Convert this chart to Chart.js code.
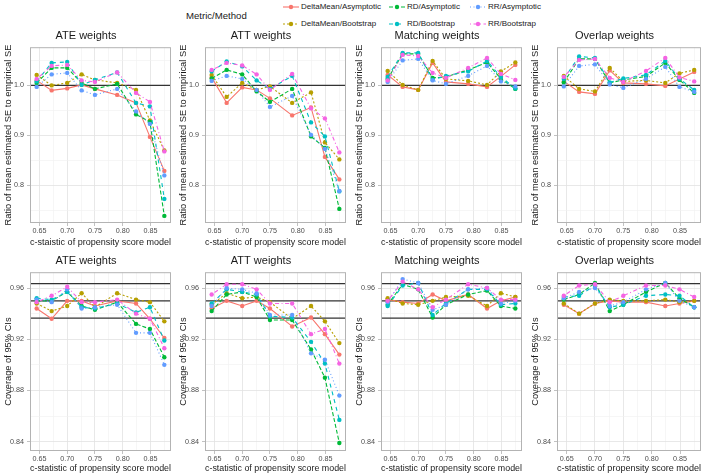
<!DOCTYPE html>
<html>
<head>
<meta charset="utf-8">
<script src="https://cdn.jsdelivr.net/npm/chart.js@4.4.1/dist/chart.umd.min.js"></script>
<style>
body{margin:0;background:#fff;width:709px;height:474px;overflow:hidden;position:relative;font-family:"Liberation Sans",Arial,sans-serif;}
canvas{position:absolute;}
.lg-title{position:absolute;font-size:9.6px;color:#1a1a1a;line-height:12px;}
.lg-item{position:absolute;font-size:8px;color:#1a1a1a;white-space:nowrap;height:12px;line-height:12px;}
.lg-item svg{position:absolute;left:0;top:0;}
.lg-item span{position:absolute;left:18px;top:0;}
</style>
</head>
<body>
<div id="legend"></div>
<script>
// c-statistic of the propensity score model (x positions)
const xVals = [0.645, 0.672, 0.700, 0.726, 0.750, 0.790, 0.824, 0.849, 0.875];
const seriesNames = ['DeltaMean/Asymptotic', 'DeltaMean/Bootstrap', 'RD/Asymptotic', 'RD/Bootstrap', 'RR/Asymptotic', 'RR/Bootstrap'];

// ratio of mean estimated SE to empirical SE, one row per series (same order as seriesNames)
const seATE = [
  [1.010, 0.990, 0.994, 1.001, 0.993, 0.981, 0.965, 0.897, 0.829],
  [1.021, 1.000, 1.005, 1.022, 1.011, 1.005, 0.991, 0.930, 0.870],
  [1.005, 1.035, 1.035, 1.005, 0.993, 1.003, 0.942, 0.927, 0.739],
  [1.008, 1.045, 1.047, 1.001, 1.011, 1.026, 0.965, 0.958, 0.773],
  [0.997, 1.022, 1.025, 0.990, 0.981, 0.993, 0.948, 0.923, 0.820],
  [1.013, 1.039, 1.041, 1.010, 1.007, 1.026, 0.985, 0.967, 0.868]
];
const seATT = [
  [1.016, 0.965, 0.996, 0.991, 0.974, 0.940, 0.956, 0.857, 0.812],
  [1.021, 0.977, 1.005, 0.991, 0.998, 0.965, 0.986, 0.886, 0.852],
  [1.014, 1.031, 1.022, 0.988, 0.967, 0.993, 0.898, 0.875, 0.753],
  [1.028, 1.048, 1.038, 1.010, 0.993, 1.019, 0.926, 0.898, 0.788],
  [1.009, 1.019, 1.013, 0.991, 0.957, 0.979, 0.901, 0.873, 0.789],
  [1.031, 1.045, 1.040, 1.022, 0.991, 1.023, 0.954, 0.934, 0.866]
];
const seMatching = [
  [1.021, 0.997, 0.991, 1.045, 1.007, 1.003, 0.997, 1.018, 1.041],
  [1.029, 1.001, 0.991, 1.049, 1.013, 1.009, 1.001, 1.028, 1.046],
  [1.013, 1.063, 1.063, 1.015, 1.017, 1.031, 1.046, 1.013, 0.993],
  [1.017, 1.065, 1.065, 1.011, 1.019, 1.028, 1.049, 1.017, 0.994],
  [1.007, 1.050, 1.053, 1.010, 1.003, 1.019, 1.039, 1.008, 0.998],
  [1.010, 1.061, 1.059, 1.025, 1.015, 1.035, 1.055, 1.023, 1.011]
];
const seOverlap = [
  [1.008, 0.987, 0.983, 1.030, 1.005, 1.003, 0.999, 1.013, 1.027],
  [1.019, 0.993, 0.988, 1.035, 1.008, 1.010, 1.005, 1.024, 1.031],
  [1.006, 1.053, 1.053, 1.005, 1.011, 1.018, 1.045, 1.011, 0.985],
  [1.013, 1.058, 1.055, 1.006, 1.014, 1.021, 1.049, 1.013, 0.991],
  [0.998, 1.039, 1.042, 1.002, 0.995, 1.013, 1.037, 0.997, 0.987],
  [1.017, 1.051, 1.053, 1.015, 1.007, 1.029, 1.055, 1.016, 1.008]
];

// coverage of 95% CIs
const covATE = [
  [0.944, 0.936, 0.950, 0.950, 0.946, 0.950, 0.948, 0.936, 0.921],
  [0.948, 0.942, 0.946, 0.956, 0.945, 0.956, 0.951, 0.949, 0.934],
  [0.950, 0.950, 0.957, 0.946, 0.943, 0.949, 0.932, 0.928, 0.906],
  [0.952, 0.951, 0.957, 0.945, 0.944, 0.948, 0.941, 0.945, 0.919],
  [0.951, 0.949, 0.959, 0.944, 0.945, 0.947, 0.925, 0.925, 0.900],
  [0.949, 0.954, 0.961, 0.949, 0.949, 0.951, 0.940, 0.936, 0.913]
];
const covATT = [
  [0.944, 0.950, 0.946, 0.950, 0.944, 0.930, 0.937, 0.924, 0.908],
  [0.947, 0.956, 0.952, 0.953, 0.949, 0.936, 0.946, 0.934, 0.917],
  [0.942, 0.955, 0.957, 0.953, 0.935, 0.935, 0.912, 0.890, 0.839],
  [0.948, 0.959, 0.957, 0.955, 0.938, 0.937, 0.918, 0.901, 0.857],
  [0.946, 0.960, 0.959, 0.956, 0.939, 0.939, 0.909, 0.904, 0.876],
  [0.955, 0.963, 0.963, 0.959, 0.948, 0.948, 0.924, 0.928, 0.901]
];
const covMatching = [
  [0.951, 0.949, 0.948, 0.955, 0.950, 0.955, 0.944, 0.950, 0.953],
  [0.952, 0.948, 0.947, 0.950, 0.953, 0.954, 0.946, 0.956, 0.953],
  [0.947, 0.963, 0.959, 0.937, 0.947, 0.955, 0.958, 0.946, 0.944],
  [0.946, 0.962, 0.964, 0.939, 0.948, 0.959, 0.959, 0.947, 0.948],
  [0.949, 0.967, 0.964, 0.943, 0.947, 0.959, 0.960, 0.948, 0.950],
  [0.950, 0.965, 0.959, 0.945, 0.951, 0.963, 0.960, 0.951, 0.951]
];
const covOverlap = [
  [0.947, 0.940, 0.948, 0.950, 0.949, 0.949, 0.946, 0.948, 0.950],
  [0.948, 0.940, 0.948, 0.951, 0.950, 0.950, 0.951, 0.949, 0.950],
  [0.951, 0.955, 0.964, 0.942, 0.947, 0.957, 0.964, 0.952, 0.945],
  [0.953, 0.954, 0.962, 0.945, 0.947, 0.954, 0.955, 0.954, 0.945],
  [0.952, 0.957, 0.960, 0.946, 0.949, 0.959, 0.964, 0.950, 0.945],
  [0.954, 0.962, 0.963, 0.949, 0.954, 0.962, 0.962, 0.959, 0.953]
];

// ticks and reference lines
const xMajor = [0.65, 0.70, 0.75, 0.80, 0.85];
const xMinor = [0.675, 0.725, 0.775, 0.825, 0.875];
const seMajor = [0.8, 0.9, 1.0];
const seMinor = [0.75, 0.85, 0.95, 1.05];
const covMajor = [0.84, 0.88, 0.92, 0.96];
const covMinor = [0.86, 0.90, 0.94];
const seRef = [1.0];
const covRef = [0.9365, 0.95, 0.9635];

const colors = ['#F8766D', '#B79F00', '#00BA38', '#00BFC4', '#619CFF', '#F564E3'];
const dashes = [[], [2, 2], [4, 2], [4, 4], [1, 2.5], [1, 2.5, 4, 2.5]];
const FONT = '"Liberation Sans", Arial, sans-serif';

const panelDeco = {
  id: 'panelDeco',
  beforeDatasetsDraw(chart, args, opts) {
    const ctx = chart.ctx, a = chart.chartArea, y = chart.scales.y;
    ctx.save();
    ctx.strokeStyle = '#333333';
    ctx.lineWidth = 1.4;
    opts.values.forEach(function(v) {
      const py = y.getPixelForValue(v);
      ctx.beginPath(); ctx.moveTo(a.left, py); ctx.lineTo(a.right, py); ctx.stroke();
    });
    ctx.restore();
  },
  afterDraw(chart) {
    const ctx = chart.ctx, a = chart.chartArea;
    ctx.save();
    ctx.strokeStyle = '#b3b3b3';
    ctx.lineWidth = 1;
    ctx.strokeRect(a.left + 0.5, a.top + 0.5, a.right - a.left - 1, a.bottom - a.top - 1);
    ctx.restore();
  }
};

function isIn(v, list) {
  return list.some(function(m) { return Math.abs(m - v) < 1e-9; });
}

function gridOpts(major) {
  return {
    color: function(c) { return isIn(c.tick.value, major) ? '#e2e2e2' : '#f0f0f0'; },
    lineWidth: function(c) { return isIn(c.tick.value, major) ? 0.8 : 0.6; },
    tickColor: function(c) { return isIn(c.tick.value, major) ? '#b3b3b3' : 'rgba(0,0,0,0)'; },
    tickLength: 3,
    drawTicks: true
  };
}

function panel(left, top, width, height, title, xTitle, yTitle, series, yRange, yMajor, yMinor, yDec, refs) {
  const cv = document.createElement('canvas');
  cv.width = width; cv.height = height;
  cv.style.left = left + 'px'; cv.style.top = top + 'px';
  document.body.appendChild(cv);

  const datasets = series.map(function(vals, i) {
    return {
      label: seriesNames[i],
      data: xVals.map(function(x, j) { return {x: x, y: vals[j]}; }),
      borderColor: colors[i],
      backgroundColor: colors[i],
      pointBackgroundColor: colors[i],
      borderDash: dashes[i],
      borderWidth: 1.1,
      pointRadius: 2.2,
      pointBorderWidth: 0,
      tension: 0,
      order: 6 - i
    };
  });

  new Chart(cv, {
    type: 'line',
    data: {datasets: datasets},
    options: {
      responsive: false,
      animation: false,
      events: [],
      layout: {padding: {left: 0, right: 3, top: 0, bottom: 0}},
      plugins: {
        legend: {display: false},
        tooltip: {enabled: false},
        title: {display: true, text: title, color: '#1a1a1a', font: {family: FONT, size: 11, weight: 'normal'}, padding: {top: 3, bottom: 5}},
        panelDeco: {values: refs}
      },
      scales: {
        x: {
          type: 'linear', min: 0.633, max: 0.887,
          afterBuildTicks: function(s) { s.ticks = xMajor.concat(xMinor).sort().map(function(v) { return {value: v}; }); },
          afterFit: function(s) { s.height = top < 100 ? 25 : 23; },
          ticks: {autoSkip: false, maxRotation: 0, padding: 1, color: '#4d4d4d', font: {family: FONT, size: 7.2},
                  callback: function(v) { return isIn(v, xMajor) ? v.toFixed(2) : ''; }},
          grid: gridOpts(xMajor),
          border: {display: false},
          title: {display: true, text: xTitle, color: '#1a1a1a', font: {family: FONT, size: 9.3}, padding: {top: 0, bottom: 0}}
        },
        y: {
          type: 'linear', min: yRange[0], max: yRange[1],
          afterBuildTicks: function(s) { s.ticks = yMajor.concat(yMinor).sort().map(function(v) { return {value: v}; }); },
          afterFit: function(s) { s.width = 30; },
          ticks: {autoSkip: false, padding: 3, color: '#4d4d4d', font: {family: FONT, size: 7.2},
                  callback: function(v) { return isIn(v, yMajor) ? v.toFixed(yDec) : ''; }},
          grid: gridOpts(yMajor),
          border: {display: false},
          title: {display: true, text: yTitle, color: '#1a1a1a', font: {family: FONT, size: 9.3}, padding: {top: 3, bottom: 0}}
        }
      }
    },
    plugins: [panelDeco]
  });
}

const colLeft = [0, 175, 351, 527];
const colWidth = [175, 175, 175, 178];
const titles = ['ATE weights', 'ATT weights', 'Matching weights', 'Overlap weights'];
const seData = [seATE, seATT, seMatching, seOverlap];
const covData = [covATE, covATT, covMatching, covOverlap];
const topXTitles = ['c-staistic of propensity score model', 'c-statistic of propensity score model',
                    'c-statistic of propensity score model', 'c-statistic of propensity score model'];

for (let c = 0; c < 4; c++) {
  panel(colLeft[c], 26, colWidth[c], 222, titles[c], topXTitles[c], 'Ratio of mean estimated SE to empirical SE',
        seData[c], [0.7248, 1.0764], seMajor, seMinor, 1, seRef);
  panel(colLeft[c], 251, colWidth[c], 223, titles[c], 'c-statistic of propensity score model', 'Coverage of 95% CIs',
        covData[c], [0.8327, 0.9724], covMajor, covMinor, 2, covRef);
}

// legend (two rows, three columns, like the original)
const legend = document.getElementById('legend');
const lgTitle = document.createElement('div');
lgTitle.className = 'lg-title';
lgTitle.style.left = '186px'; lgTitle.style.top = '10px';
lgTitle.textContent = 'Metric/Method';
legend.appendChild(lgTitle);

const lgCols = [291, 397, 478];
const lgRows = [7, 24];
seriesNames.forEach(function(name, i) {
  const col = Math.floor(i / 2), row = i % 2;
  const item = document.createElement('div');
  item.className = 'lg-item';
  item.style.left = (lgCols[col] - 8) + 'px';
  item.style.top = (lgRows[row] - 6) + 'px';
  const dash = dashes[i].length ? ' stroke-dasharray="' + dashes[i].join(' ') + '"' : '';
  item.innerHTML = '<svg width="16" height="12"><line x1="0" y1="6" x2="16" y2="6" stroke="' + colors[i] + '" stroke-width="1.1"' + dash +
    '/><circle cx="8" cy="6" r="2.2" fill="' + colors[i] + '"/></svg><span>' + name + '</span>';
  legend.appendChild(item);
});
</script>
</body>
</html>
